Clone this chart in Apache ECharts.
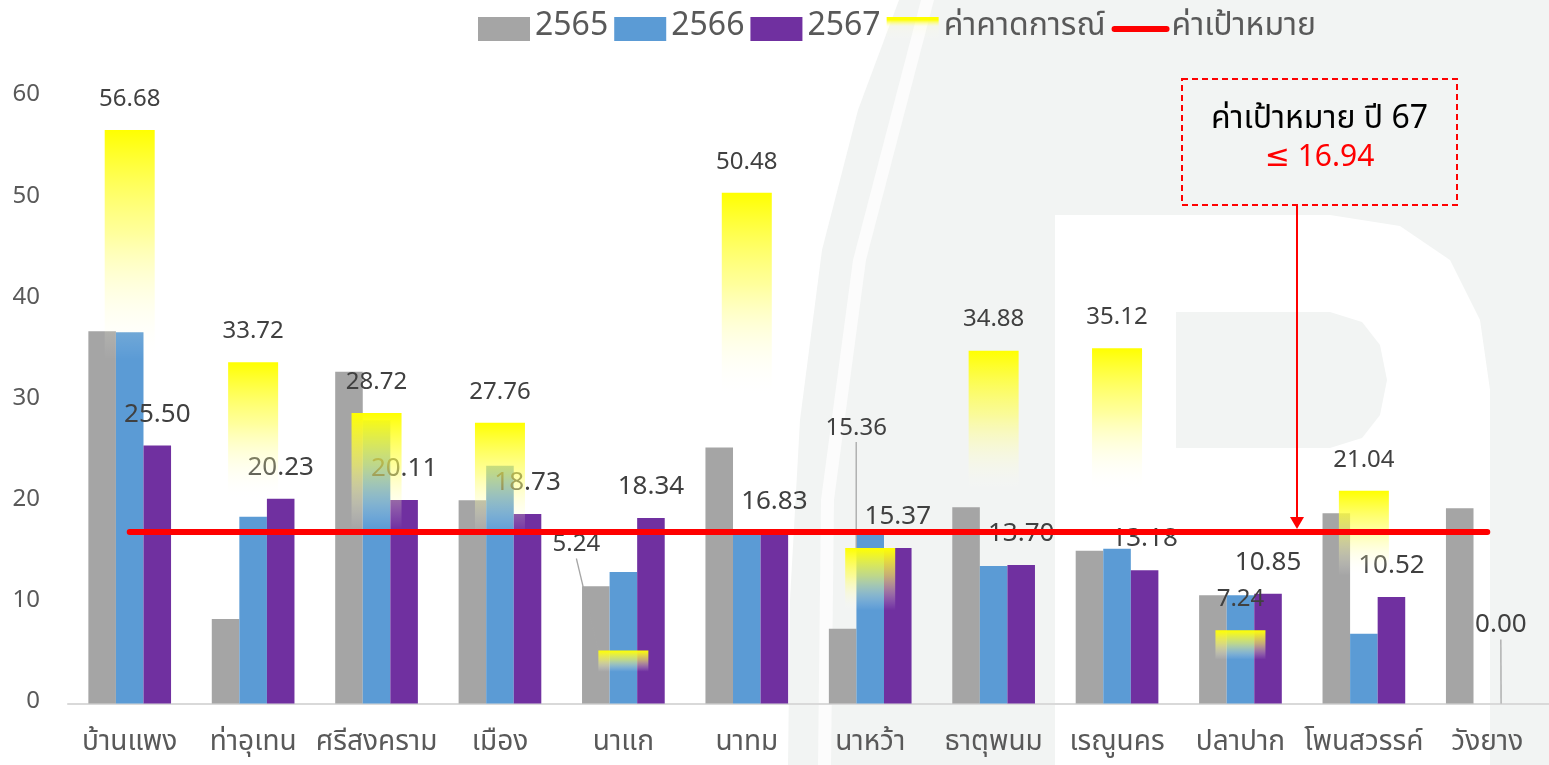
<!DOCTYPE html>
<html>
<head>
<meta charset="utf-8">
<script src="https://cdn.jsdelivr.net/npm/echarts@6/dist/echarts.min.js"></script>
<style>
html, body { margin: 0; padding: 0; background: #fff; }
#chart { width: 1549px; height: 765px; }
</style>
</head>
<body>
<div id="chart"></div>
<script>
var categories = ['บ้านแพง', 'ท่าอุเทน', 'ศรีสงคราม', 'เมือง', 'นาแก', 'นาทม', 'นาหว้า', 'ธาตุพนม', 'เรณูนคร', 'ปลาปาก', 'โพนสวรรค์', 'วังยาง'];
var data2565 = [36.8, 8.35, 32.8, 20.1, 11.6, 25.3, 7.4, 19.4, 15.1, 10.7, 18.8, 19.3];
var data2566 = [36.7, 18.45, 28.0, 23.5, 13.0, 16.8, 17.2, 13.6, 15.3, 10.7, 6.9, null];
var data2567 = [25.50, 20.23, 20.11, 18.73, 18.34, 16.83, 15.37, 13.70, 13.18, 10.85, 10.52, 0.00];
var forecast = [56.68, 33.72, 28.72, 27.76, 5.24, 50.48, 15.36, 34.88, 35.12, 7.24, 21.04, null];
var targetLine = [16.94, 16.94, 16.94, 16.94, 16.94, 16.94, 16.94, 16.94, 16.94, 16.94, 16.94, 16.94];
var yMin = 0, yMax = 60, yStep = 10;

var font = "'Noto Sans Thai', 'Noto Sans Thai UI', 'Noto Sans', 'DejaVu Sans', sans-serif";
var bg = '#f2f4f3';

var myChart = echarts.init(document.getElementById('chart'));

var yellowFill = new echarts.graphic.LinearGradient(0, 0, 0, 1, [
    { offset: 0, color: 'rgba(255,255,0,1)' },
    { offset: 0.18, color: 'rgba(255,255,90,0.6)' },
    { offset: 0.4, color: 'rgba(255,255,255,0)' },
    { offset: 1, color: 'rgba(255,255,255,0)' }
]);
var yellowIcon = new echarts.graphic.LinearGradient(0, 0, 0, 1, [
    { offset: 0, color: 'rgba(255,255,0,1)' },
    { offset: 0.12, color: 'rgba(255,255,0,1)' },
    { offset: 0.4, color: 'rgba(255,255,200,0.2)' },
    { offset: 1, color: 'rgba(255,255,255,0)' }
]);

// labels that excel pushed away from their bars
var lineOn = { show: true, lineStyle: { color: '#a6a6a6', width: 1.3 } };
var forecastData = forecast.map(function (v, i) {
    if (i === 4 || i === 6) return { value: v, labelLine: lineOn };
    return v;
});
var data2567Items = data2567.map(function (v, i) {
    if (i === 11) return { value: v, labelLine: lineOn };
    return v;
});

// faint logo in the background
var watermark = [
    { type: 'polygon', z: -10, silent: true, shape: { points: [[899, 0], [1549, 0], [1549, 765], [788, 765], [790, 600], [800, 420], [822, 250], [858, 110]] }, style: { fill: bg } },
    { type: 'polygon', z: -9, silent: true, shape: { points: [[921, 0], [934, 0], [866, 260], [834, 500], [831, 765], [818, 765], [821, 500], [853, 260]] }, style: { fill: '#fcfcfc' } },
    { type: 'polygon', z: -9, silent: true, shape: { points: [[1055, 215], [1330, 215], [1400, 226], [1450, 260], [1480, 320], [1490, 390], [1490, 765], [1055, 765]] }, style: { fill: '#fff' } },
    { type: 'polygon', z: -8, silent: true, shape: { points: [[1176, 312], [1330, 312], [1362, 322], [1380, 345], [1387, 380], [1380, 415], [1362, 438], [1330, 448], [1176, 448]] }, style: { fill: bg } }
];

var option = {
    backgroundColor: '#fff',
    textStyle: { fontFamily: font },
    animation: false,
    legend: {
        left: 473,
        top: 8,
        itemWidth: 52,
        itemHeight: 24,
        itemGap: 6,
        textStyle: { fontSize: 32, color: '#595959', fontFamily: font },
        data: [
            { name: '2565', icon: 'rect' },
            { name: '2566', icon: 'rect' },
            { name: '2567', icon: 'rect' },
            { name: 'ค่าคาดการณ์', icon: 'rect', itemStyle: { color: yellowIcon } },
            { name: 'ค่าเป้าหมาย', itemStyle: { opacity: 0 }, lineStyle: { width: 6, cap: 'round', color: '#ff0000' } }
        ]
    },
    grid: {
        left: 68,
        right: 0,
        top: 96.5,
        bottom: 61.5
    },
    xAxis: [
        {
            type: 'category',
            data: categories,
            axisTick: { show: false },
            axisLine: { lineStyle: { color: '#d9d9d9', width: 2 } },
            axisLabel: { color: '#595959', fontSize: 28, margin: 27, interval: 0 }
        },
        {
            type: 'category',
            data: categories,
            show: false
        }
    ],
    yAxis: {
        type: 'value',
        min: yMin,
        max: yMax,
        interval: yStep,
        splitLine: { show: false },
        axisLine: { show: false },
        axisTick: { show: false },
        axisLabel: { color: '#595959', fontSize: 24, margin: 28 }
    },
    series: [
        {
            name: '2565',
            type: 'bar',
            data: data2565,
            barGap: '0%',
            barCategoryGap: '33%',
            itemStyle: { color: '#a5a5a5' }
        },
        {
            name: '2566',
            type: 'bar',
            data: data2566,
            itemStyle: { color: '#5b9bd5' }
        },
        {
            name: '2567',
            type: 'bar',
            data: data2567Items,
            itemStyle: { color: '#7030a0' },
            label: {
                show: true,
                position: 'top',
                distance: 16,
                fontSize: 26,
                color: '#404040',
                formatter: function (p) { return p.value.toFixed(2); }
            },
            labelLayout: function (p) {
                if (p.dataIndex === 11) return { dx: -14, dy: -48 };
            }
        },
        {
            name: 'ค่าคาดการณ์',
            type: 'bar',
            xAxisIndex: 1,
            barWidth: 50,
            z: 3,
            data: forecastData,
            itemStyle: { color: yellowFill },
            label: {
                show: true,
                position: 'top',
                distance: 17,
                fontSize: 24,
                color: '#404040',
                formatter: function (p) { return p.value.toFixed(2); }
            },
            labelLayout: function (p) {
                if (p.dataIndex === 4) return { dx: -47, dy: -75 };
                if (p.dataIndex === 6) return { dx: -14, dy: -89 };
            }
        },
        {
            name: 'ค่าเป้าหมาย',
            type: 'line',
            data: targetLine,
            symbol: 'none',
            z: 5,
            lineStyle: { color: '#ff0000', width: 6, cap: 'round' },
            itemStyle: { color: '#ff0000' }
        }
    ],
    graphic: watermark
};
myChart.setOption(option);

// target call-out box with arrow down to the line
var tipY = myChart.convertToPixel({ yAxisIndex: 0 }, targetLine[0]) - 3;
var boxX = 1182, boxY = 79, boxW = 275, boxH = 126, arrowX = 1297;
myChart.setOption({
    graphic: watermark.concat([
        {
            type: 'rect', z: 20, silent: true,
            shape: { x: boxX, y: boxY, width: boxW, height: boxH },
            style: { fill: 'transparent', stroke: '#ff0000', lineWidth: 2, lineDash: [6, 4] }
        },
        {
            type: 'text', z: 21, silent: true,
            x: boxX + boxW / 2, y: 122,
            style: { text: 'ค่าเป้าหมาย ปี 67', font: '32px ' + font, fill: '#000', align: 'center', verticalAlign: 'middle' }
        },
        {
            type: 'text', z: 21, silent: true,
            x: boxX + boxW / 2, y: 160,
            style: { text: '≤ 16.94', font: '30px ' + font, fill: '#ff0000', align: 'center', verticalAlign: 'middle' }
        },
        {
            type: 'line', z: 21, silent: true,
            shape: { x1: arrowX, y1: boxY + boxH, x2: arrowX, y2: tipY - 10 },
            style: { stroke: '#ff0000', lineWidth: 2 }
        },
        {
            type: 'polygon', z: 21, silent: true,
            shape: { points: [[arrowX - 7, tipY - 12], [arrowX + 7, tipY - 12], [arrowX, tipY]] },
            style: { fill: '#ff0000' }
        }
    ])
});
</script>
</body>
</html>
